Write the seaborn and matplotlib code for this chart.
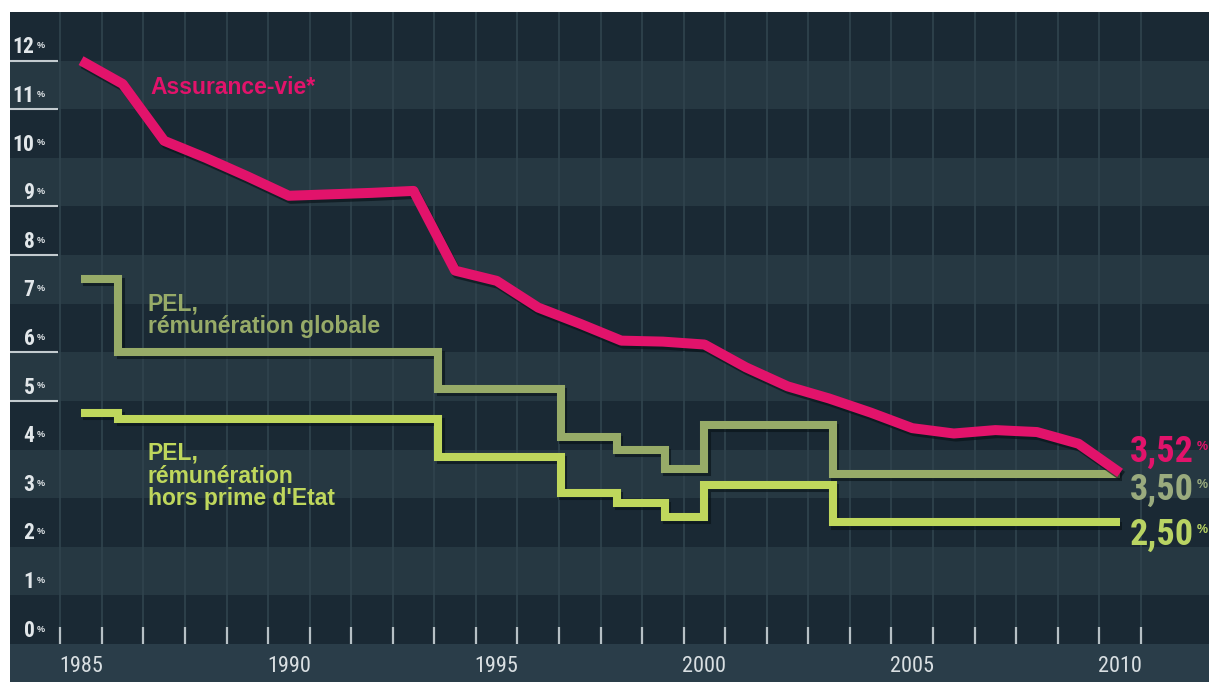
import numpy as np
import matplotlib
matplotlib.use("Agg")
import matplotlib.pyplot as plt
import matplotlib.patheffects as pe
from matplotlib.patches import Rectangle
from matplotlib import font_manager as fm
import seaborn as sns

# ---------------- data ----------------
years = [1985, 1986, 1987, 1988, 1989, 1990, 1991, 1992, 1993, 1994, 1995, 1996, 1997,
         1998, 1999, 2000, 2001, 2002, 2003, 2004, 2005, 2006, 2007, 2008, 2009, 2010]
assurance_vie = [12.00, 11.52, 10.35, 10.00, 9.62, 9.22, 9.25, 9.28, 9.32, 7.68, 7.47, 6.92, 6.59,
                 6.24, 6.22, 6.16, 5.69, 5.30, 5.05, 4.76, 4.44, 4.33, 4.40, 4.36, 4.12, 3.52]

pel_dates = [1985, 1985.9, 1993.6, 1996.55, 1997.9, 1999.05, 2000.0, 2003.1, 2010]
pel_global = [7.50, 6.00, 5.25, 4.25, 4.00, 3.60, 4.50, 3.50, 3.50]
pel_hors_prime = [4.75, 4.62, 3.84, 3.10, 2.90, 2.61, 3.27, 2.50, 2.50]

y_labels = list(range(0, 13))
x_labels = [1985, 1990, 1995, 2000, 2005, 2010]
end_values = ["3,52", "3,50", "2,50"]

# ---------------- style ----------------
sns.set_theme(style="white")
avail = {f.name for f in fm.fontManager.ttflist}
NARROW = next((n for n in ["Liberation Sans Narrow", "Roboto Condensed", "Open Sans Condensed"]
               if n in avail), "Liberation Sans")
SANS = "Liberation Sans" if "Liberation Sans" in avail else "DejaVu Sans"
plt.rcParams["font.family"] = [SANS, "DejaVu Sans"]

PINK = "#e2136b"
OLIVE = "#97ab68"
LIME = "#bfd75c"
DARK = "#1a2934"
LIGHT = "#263842"
STRIP = "#2a3d49"
LABEL = "#e2e7ea"

W, H = 1209, 682
fig = plt.figure(figsize=(W / 100, H / 100), dpi=100, facecolor="white")
ax = fig.add_axes([10 / W, 38 / H, 1199 / W, 632 / H])
ax.set_xlim(1983.29, 2012.14)
ax.set_ylim(0, 13)
for s in ax.spines.values():
    s.set_visible(False)

# bottom strip for the year labels (drawn beneath the axes and its tick labels)
fig.patches.append(Rectangle((10 / W, 0), 1199 / W, 38 / H, transform=fig.transFigure,
                             facecolor=STRIP, edgecolor="none", zorder=-5))

# horizontal bands
for k in range(13):
    ax.axhspan(k, k + 1, facecolor=LIGHT if k % 2 == 1 else DARK, edgecolor="none", zorder=0)

# x ticks: labels at years, marks + grid at year boundaries
ax.set_xticks(x_labels)
ax.set_xticklabels([str(v) for v in x_labels], fontfamily=NARROW, fontweight="normal",
                   fontsize=16, color="#d9dfe2")
ax.set_xticks(np.arange(years[0] - 0.5, years[-1] + 1, 1), minor=True)
ax.tick_params(axis="x", which="major", length=0, pad=9, labelbottom=True)
ax.tick_params(axis="x", which="minor", direction="in", length=12, width=1.6,
               color="#b6c0c5", bottom=True)
ax.set_axisbelow(True)
ax.grid(False)
ax.grid(which="minor", axis="x", color="#2f424c", linewidth=1.3, zorder=0.5)
ax.set_yticks([])

# y labels in the left column
ytr = ax.get_yaxis_transform()
for v in y_labels:
    t = ax.text(0.0205, v + 0.15, str(v), transform=ytr, ha="right", va="baseline",
                fontfamily=NARROW, fontweight="bold", fontsize=15.5, color=LABEL, zorder=6)
    ax.annotate("%", xy=(1, 1), xycoords=t, xytext=(1.5, -3.5), textcoords="offset points",
                ha="left", va="top", fontsize=6.5, fontweight="bold", color=LABEL, zorder=6)
ax.hlines([12, 11, 9, 8, 6, 5], 0, 0.04, transform=ytr, color="#c3cbcf", linewidth=1.5, zorder=3)

# ---------------- lines ----------------
shadow = [pe.SimpleLineShadow(offset=(1.5, -2.2), shadow_color="#081218", alpha=0.65), pe.Normal()]
sns.lineplot(x=pel_dates, y=pel_hors_prime, ax=ax, color=LIME, linewidth=5.8,
             drawstyle="steps-post", zorder=3, path_effects=shadow,
             solid_joinstyle="miter", solid_capstyle="butt")
sns.lineplot(x=pel_dates, y=pel_global, ax=ax, color=OLIVE, linewidth=5.8,
             drawstyle="steps-post", zorder=4, path_effects=shadow,
             solid_joinstyle="miter", solid_capstyle="butt")
sns.lineplot(x=years, y=assurance_vie, ax=ax, color=PINK, linewidth=7.2, zorder=5,
             path_effects=shadow, solid_joinstyle="round", solid_capstyle="butt")

# ---------------- annotations ----------------
txt = dict(fontfamily=SANS, fontweight="bold", fontsize=16.5, ha="left", va="baseline", zorder=7)
ax.text(1986.66, 11.31, "Assurance-vie*", color=PINK, **txt)
ax.text(1986.61, 6.86, "PEL,", color=OLIVE, **txt)
ax.text(1986.61, 6.39, "rémunération globale", color=OLIVE, **txt)
ax.text(1986.61, 3.80, "PEL,", color=LIME, **txt)
ax.text(1986.61, 3.32, "rémunération", color=LIME, **txt)
ax.text(1986.61, 2.85, "hors prime d'Etat", color=LIME, **txt)

end_y = [3.74, 2.96, 2.03]
end_colors = [PINK, "#9aab7e", "#b9d463"]
for lab, yy, c in zip(end_values, end_y, end_colors):
    t = ax.text(years[-1] + 0.24, yy, lab, color=c, fontfamily=NARROW, fontweight="bold",
                fontsize=26, ha="left", va="baseline", zorder=7)
    ax.annotate("%", xy=(1, 1), xycoords=t, xytext=(2, -5), textcoords="offset points",
                ha="left", va="top", fontsize=9, fontweight="bold", color=c, zorder=7)

fig.savefig("out.png", dpi=100, facecolor="white")
